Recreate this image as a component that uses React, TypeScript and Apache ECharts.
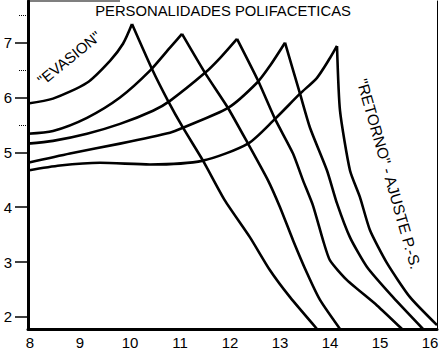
import React, { useEffect, useRef } from "react";
import * as echarts from "echarts";

// Axis tick labels
const xTickValues = [8, 9, 10, 11, 12, 13, 14, 15, 16];
const yTickValues = [2, 3, 4, 5, 6, 7];
const yMinorTickValues = [5.5, 6.5, 7.5];

const titleText = "PERSONALIDADES POLIFACETICAS";
const evasionText = '"EVASION"';
const retornoText = '"RETORNO" - AJUSTE P.-S.';

// Rising ("evasión") curves, [x, y]
const evasion1: [number, number][] = [
  [7.96, 5.89], [8.46, 5.98], [9.14, 6.27], [9.6, 6.67], [9.86, 6.98], [10.04, 7.34],
];
const evasion2: [number, number][] = [
  [7.96, 5.34], [8.46, 5.39], [9.14, 5.63], [9.8, 6.0], [10.4, 6.49], [10.8, 6.91], [11.04, 7.16],
];
const evasion3: [number, number][] = [
  [7.96, 5.16], [8.46, 5.21], [9.14, 5.34], [9.8, 5.52], [10.46, 5.76], [10.8, 5.94], [11.5, 6.45], [11.8, 6.72], [12.14, 7.07],
];
const evasion4: [number, number][] = [
  [7.96, 4.81], [8.8, 4.98], [9.8, 5.16], [10.8, 5.36], [11.06, 5.45], [11.96, 5.81], [12.54, 6.27], [12.8, 6.58], [13.1, 7.0],
];
const evasion5: [number, number][] = [
  [7.96, 4.67], [8.6, 4.76], [9.4, 4.81], [10.4, 4.78], [11.46, 4.85], [12.36, 5.16], [12.9, 5.61], [13.4, 6.07], [13.74, 6.36], [14.0, 6.72], [14.14, 6.94],
];

// Falling ("retorno") curves, [x, y]
const retorno1: [number, number][] = [
  [10.04, 7.34], [10.44, 6.52], [10.76, 5.94], [11.06, 5.45], [11.46, 4.85], [11.9, 4.12], [12.4, 3.45], [12.8, 2.85], [13.2, 2.36], [13.74, 1.78],
];
const retorno2: [number, number][] = [
  [11.04, 7.16], [11.5, 6.45], [11.96, 5.81], [12.36, 5.16], [12.76, 4.49], [13.0, 4.0], [13.26, 3.4], [13.54, 2.8], [13.8, 2.31], [14.2, 1.78],
];
const retorno3: [number, number][] = [
  [12.14, 7.07], [12.56, 6.31], [12.9, 5.61], [13.26, 4.98], [13.46, 4.49], [13.66, 4.03], [13.86, 3.4], [14.0, 3.03], [14.34, 2.67], [14.94, 2.21], [15.44, 1.78],
];
const retorno4: [number, number][] = [
  [13.1, 7.0], [13.4, 6.07], [13.6, 5.45], [13.94, 4.67], [14.14, 4.07], [14.4, 3.45], [14.74, 2.91], [15.26, 2.36], [15.86, 1.78],
];
const retorno5: [number, number][] = [
  [14.14, 6.94], [14.2, 5.76], [14.4, 4.67], [14.6, 4.18], [14.8, 3.58], [15.14, 2.98], [15.6, 2.36], [16.14, 1.85],
];

const risingCurves = [evasion1, evasion2, evasion3, evasion4, evasion5];
const fallingCurves = [retorno1, retorno2, retorno3, retorno4, retorno5];

const FONT = "'Liberation Sans', Arial, sans-serif";

export default function App() {
  const ref = useRef<HTMLDivElement>(null);

  useEffect(() => {
    document.body.style.margin = "0";
    if (!ref.current) return;
    const chart = echarts.init(ref.current, null, { renderer: "svg" });

    const lineBase = {
      type: "line" as const,
      symbol: "none",
      showSymbol: false,
      lineStyle: { color: "#000", width: 2.6, join: "miter" },
      xAxisIndex: 0,
      yAxisIndex: 0,
      z: 3,
    };

    const series: any[] = [];
    risingCurves.forEach((d, i) => {
      series.push({ ...lineBase, name: "evasion" + (i + 1), smooth: 0.25, data: d });
    });
    fallingCurves.forEach((d, i) => {
      series.push({ ...lineBase, name: "retorno" + (i + 1), smooth: 0.2, data: d });
    });

    chart.setOption({
      animation: false,
      backgroundColor: "#fff",
      grid: { left: 28, right: 6, top: 1, bottom: 23, containLabel: false },
      xAxis: {
        type: "value",
        min: 7.96,
        max: 16.14,
        axisLine: { show: true, lineStyle: { color: "#000", width: 3 } },
        axisTick: { show: false },
        splitLine: { show: false },
        axisLabel: {
          customValues: xTickValues,
          color: "#000",
          fontSize: 15,
          fontFamily: FONT,
          margin: 6,
        },
      },
      yAxis: [
        {
          type: "value",
          min: 1.78,
          max: 7.76,
          position: "left",
          axisLine: { show: true, lineStyle: { color: "#000", width: 3 } },
          axisTick: {
            show: true,
            customValues: yTickValues,
            length: 13,
            lineStyle: { color: "#000", width: 1.5 },
          },
          splitLine: { show: false },
          axisLabel: {
            customValues: yTickValues,
            color: "#000",
            fontSize: 15,
            fontFamily: FONT,
            margin: 16,
          },
        },
        {
          type: "value",
          min: 1.78,
          max: 7.76,
          position: "left",
          axisLine: { show: false },
          axisTick: {
            show: true,
            customValues: yMinorTickValues,
            length: 9,
            lineStyle: { color: "#000", width: 1, type: "dotted" },
          },
          splitLine: { show: false },
          axisLabel: { show: false },
        },
        {
          type: "value",
          min: 1.78,
          max: 7.76,
          position: "right",
          axisLine: { show: true, lineStyle: { color: "#000", width: 1 } },
          axisTick: { show: false },
          splitLine: { show: false },
          axisLabel: { show: false },
        },
      ],
      graphic: [
        {
          type: "line",
          shape: { x1: 28, y1: 1, x2: 120, y2: 1 },
          style: { stroke: "#000", lineWidth: 1.2 },
        },
        {
          type: "text",
          x: 223,
          y: 11,
          style: {
            text: titleText,
            fontSize: 14.8,
            fontFamily: FONT,
            fill: "#000",
            align: "center",
            verticalAlign: "middle",
          },
        },
        {
          type: "text",
          x: 69,
          y: 58,
          rotation: (39 * Math.PI) / 180,
          style: {
            text: evasionText,
            fontSize: 15,
            fontFamily: FONT,
            fill: "#000",
            align: "center",
            verticalAlign: "middle",
          },
        },
        {
          type: "text",
          x: 389,
          y: 174,
          rotation: (-74 * Math.PI) / 180,
          style: {
            text: retornoText,
            fontSize: 15.5,
            fontFamily: FONT,
            fill: "#000",
            align: "center",
            verticalAlign: "middle",
          },
        },
      ],
      series,
    });

    return () => chart.dispose();
  }, []);

  return <div ref={ref} style={{ width: 443, height: 352 }} />;
}
